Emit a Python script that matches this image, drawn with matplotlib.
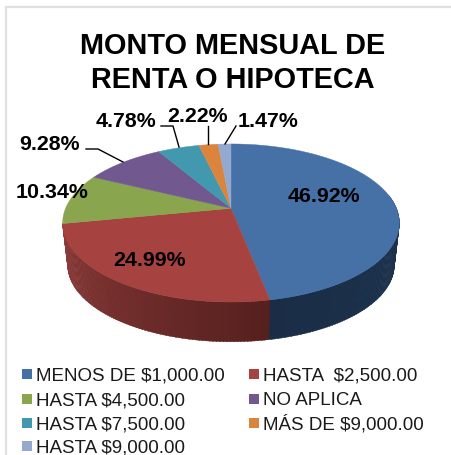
import numpy as np
import matplotlib
matplotlib.use("Agg")
import matplotlib.pyplot as plt
from matplotlib.patches import Polygon, Rectangle
from matplotlib.colors import to_rgb

plt.rcParams['font.family'] = ['Liberation Sans', 'DejaVu Sans']

categories = ["MENOS DE $1,000.00", "HASTA  $2,500.00", "HASTA $4,500.00", "NO APLICA",
              "HASTA $7,500.00", "MÁS DE $9,000.00", "HASTA $9,000.00"]
values = [46.92, 24.99, 10.34, 9.28, 4.78, 2.22, 1.47]
colors = ["#4571A7", "#A6423F", "#89A54E", "#71588F", "#4198AF", "#DB843D", "#93A9CF"]
side_near = ["#1B2D46", "#55201E"]
side_far = ["#1C3450", "#8E3C3A"]
title_lines = ["MONTO MENSUAL DE", "RENTA O HIPOTECA"]

W, H = 452, 455
fig = plt.figure(figsize=(W / 100, H / 100), dpi=100, facecolor="white")
ax = fig.add_axes([0, 0, 1, 1])
ax.set_xlim(0, W)
ax.set_ylim(H, 0)
ax.axis("off")

CX, CY, A, B, K = 231.0, 208.3, 165.4, 76.3, 0.186
DROP, SHRINK = 42.5, 0.97


def top(theta):
    u, v = np.sin(theta), np.cos(theta)
    w = 1 + K * v
    return CX + A * u / w, CY - B * v / w


def bottom(theta):
    x, y = top(theta)
    return CX + (x - CX) * SHRINK, CY + DROP + (y - CY) * SHRINK


edges = np.radians(np.concatenate([[0], np.cumsum(values)]) * 3.6)

# side wall: only the two front slices show a wall
for i in range(2):
    a0, a1 = max(edges[i], np.radians(80)), edges[i + 1]
    n = max(int(np.degrees(a1 - a0)), 2)
    ts = np.linspace(a0, a1, n + 1)
    c_near, c_far = np.array(to_rgb(side_near[i])), np.array(to_rgb(side_far[i]))
    for j in range(n):
        f = (j + 0.5) / n
        c = (c_far + (c_near - c_far) * f) if i == 0 else (c_near + (c_far - c_near) * f)
        t = np.linspace(ts[j], ts[j + 1] + 0.005, 3)
        xt, yt = top(t)
        xb, yb = bottom(t[::-1])
        ax.add_patch(Polygon(np.column_stack([np.r_[xt, xb], np.r_[yt, yb]]),
                             facecolor=c, edgecolor=c, lw=0.3, zorder=2))

# top face
for i in range(len(values)):
    t = np.linspace(edges[i], edges[i + 1], 200)
    xt, yt = top(t)
    ax.add_patch(Polygon(np.column_stack([np.r_[CX, xt], np.r_[CY, yt]]),
                         facecolor=colors[i], edgecolor=colors[i], lw=0.3, zorder=3))

# data labels (x centre, baseline)
label_pos = [(324, 202.5), (150, 265.5), (52, 197.5), (50, 150.5), (126, 127), (198, 121.5), (268, 127)]
for v, (x, y) in zip(values, label_pos):
    ax.text(x, y, f"{v:.2f}%", ha="center", va="baseline", fontsize=15.4,
            fontweight="bold", color="black", zorder=5)

# leader lines
leaders = [[(86, 149), (98, 149), (123, 162)],
           [(161, 126), (173, 126), (179, 147)],
           [(208, 126), (208, 144)],
           [(236, 126), (225, 144)]]
for pts in leaders:
    xs, ys = zip(*pts)
    ax.plot(xs, ys, color="black", lw=1.0, zorder=4)

# title
ax.text(232.5, 54.5, title_lines[0], ha="center", va="baseline", fontsize=20.8, fontweight="bold")
ax.text(232.5, 87.8, title_lines[1], ha="center", va="baseline", fontsize=20.8, fontweight="bold")

# legend
rows = [374, 398.5, 423, 445.5]
cols = [22, 249]
for i, (name, c) in enumerate(zip(categories, colors)):
    x, y = cols[i % 2], rows[i // 2]
    ax.add_patch(Rectangle((x, y - 5), 10, 10, facecolor=c, edgecolor="none"))
    ax.text(x + 14, y + 6.7, name, ha="left", va="baseline", fontsize=13.5, color="#1a1a1a")

# chart-area border, top and left
ax.plot([W, 6, 6], [7, 7, H], color="#E0E0E0", lw=1.6, zorder=1, solid_joinstyle="miter")

fig.savefig("out.png", dpi=100, facecolor="white")
